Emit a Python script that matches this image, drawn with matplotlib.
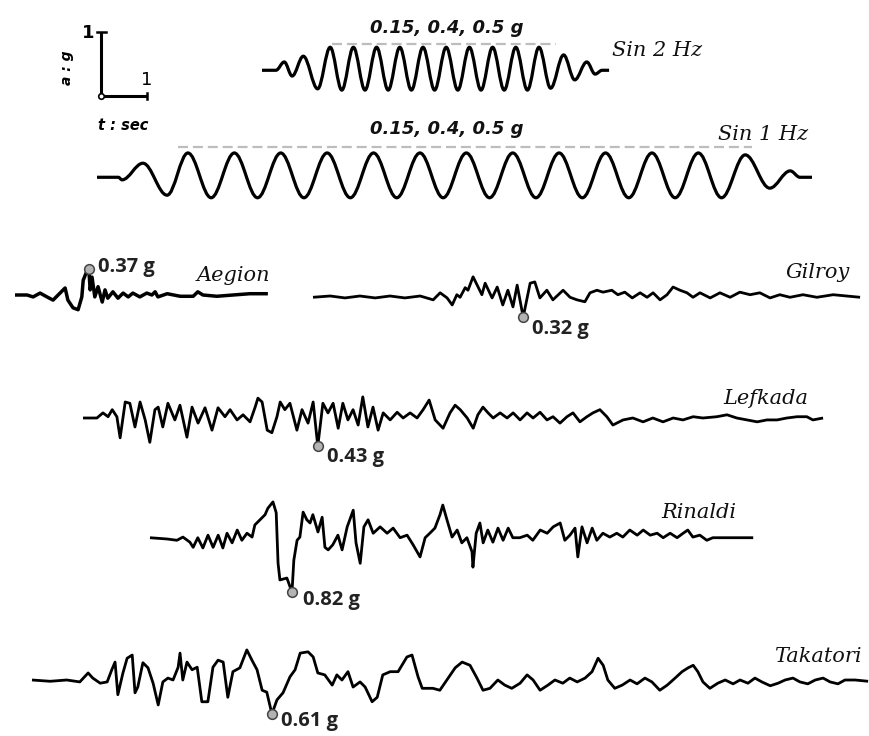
import numpy as np
import matplotlib
matplotlib.use("Agg")
import matplotlib.pyplot as plt
from matplotlib.path import Path
from matplotlib.patches import PathPatch

# ---------------- data: time (s) and acceleration (g) ----------------
SIN2_T = [0.00, 0.30, 0.48, 0.65, 0.89, 1.20,
          1.47, 1.72, 1.97, 2.22, 2.47, 2.72, 2.97, 3.22, 3.47, 3.72,
          3.97, 4.22, 4.47, 4.72, 4.97, 5.22, 5.47, 5.72, 5.97, 6.22,
          6.50, 6.74, 7.00, 7.18, 7.33, 7.48]
SIN2_A = [-0.02, -0.02, 0.11, -0.11, 0.20, -0.31,
          0.34, -0.33, 0.34, -0.33, 0.34, -0.33, 0.34, -0.33, 0.34, -0.33,
          0.34, -0.33, 0.34, -0.33, 0.34, -0.33, 0.34, -0.33, 0.34, -0.30,
          0.22, -0.17, 0.11, -0.08, -0.02, -0.02]
SIN2_DASH_T = [1.51, 6.34]
SIN2_DASH_A = 0.39

SIN1_T = [0.00, 0.46, 0.54, 0.99, 1.51,
          1.96, 2.46, 2.96, 3.46, 3.96, 4.46, 4.96, 5.46, 5.96, 6.46, 6.96, 7.46,
          7.96, 8.46, 8.96, 9.46, 9.96, 10.46, 10.96, 11.46, 11.96, 12.46, 12.96, 13.46,
          13.97, 14.50, 14.94, 15.15, 15.41]
SIN1_A = [-0.02, -0.02, -0.06, 0.20, -0.30,
          0.36, -0.34, 0.36, -0.34, 0.36, -0.34, 0.36, -0.34, 0.36, -0.34, 0.36, -0.34,
          0.36, -0.34, 0.36, -0.34, 0.36, -0.34, 0.36, -0.34, 0.36, -0.34, 0.36, -0.34,
          0.33, -0.19, 0.08, -0.02, -0.02]
SIN1_DASH_T = [1.75, 14.12]
SIN1_DASH_A = 0.45
SIN_LEVELS = "0.15, 0.4, 0.5 g"

AEGION_T = [0, 0.26, 0.39, 0.54, 0.69, 0.82, 0.97, 1.08, 1.14, 1.25,
            1.36, 1.44, 1.47, 1.53, 1.59, 1.62, 1.66, 1.72, 1.79, 1.88,
            1.94, 2.00, 2.11, 2.22, 2.33, 2.44, 2.54, 2.69, 2.84, 2.95,
            3.02, 3.08, 3.28, 3.56, 3.84, 3.94, 4.05, 4.35, 4.70, 5.06, 5.45]
AEGION_A = [0, 0, -0.03, 0.03, -0.03, -0.08, 0.03, 0.11, -0.08, -0.20,
            -0.23, -0.03, 0.23, 0.34, 0.41, 0.08, 0.28, -0.03, 0.13, -0.11,
            0.08, -0.05, 0.05, -0.05, 0.03, -0.03, 0.03, -0.03, 0.03, 0,
            0.05, -0.03, 0.02, -0.02, -0.02, 0.05, 0, -0.02, 0, 0.02, 0.02]
AEGION_PGA = "0.37 g"

GILROY_T = [0, 0.37, 0.69, 1.01, 1.34, 1.66, 1.98, 2.31, 2.59, 2.74,
            2.89, 3.00, 3.10, 3.17, 3.28, 3.34, 3.45, 3.64, 3.71, 3.86,
            3.97, 4.09, 4.20, 4.31, 4.40, 4.53, 4.68, 4.78, 4.89, 5.04,
            5.17, 5.39, 5.54, 5.69, 5.86, 5.97, 6.12, 6.25, 6.44, 6.57,
            6.72, 6.88, 7.05, 7.20, 7.33, 7.48, 7.63, 7.76, 7.91, 8.06,
            8.19, 8.34, 8.56, 8.77, 8.99, 9.20, 9.42, 9.63, 9.85, 10.06,
            10.28, 10.56, 10.86, 11.21, 11.79]
GILROY_A = [-0.02, 0, -0.03, 0, -0.03, 0, -0.03, 0, -0.06, 0.05,
            -0.03, -0.14, 0.02, -0.02, 0.13, 0.09, 0.30, 0.02, 0.20, -0.03,
            0.14, -0.14, 0.09, -0.17, 0.17, -0.33, 0.20, 0.22, -0.03, 0.09,
            -0.06, 0.09, -0.02, -0.06, -0.09, 0.05, 0.09, 0.06, 0.09, 0.02,
            0.06, -0.03, 0.05, -0.02, 0.05, -0.06, 0.02, 0.14, 0.09, 0.05,
            -0.02, 0.05, -0.03, 0.05, -0.02, 0.06, 0.02, 0.05, -0.03, 0.02,
            -0.02, 0.02, -0.02, 0.02, -0.02]
GILROY_PGA = "0.32 g"

LEFKADA_T = [0, 0.30, 0.43, 0.54, 0.63, 0.73, 0.80, 0.91, 1.01, 1.12,
             1.23, 1.34, 1.44, 1.55, 1.62, 1.72, 1.83, 1.98, 2.09, 2.24,
             2.35, 2.48, 2.63, 2.78, 2.91, 3.06, 3.17, 3.32, 3.45, 3.60,
             3.71, 3.77, 3.86, 3.97, 4.07, 4.18, 4.25, 4.35, 4.46, 4.61,
             4.72, 4.85, 4.96, 5.06, 5.17, 5.28, 5.39, 5.50, 5.60, 5.71,
             5.82, 5.93, 6.03, 6.14, 6.25, 6.36, 6.47, 6.62, 6.77, 6.90,
             7.05, 7.20, 7.33, 7.46, 7.59, 7.76, 7.91, 8.02, 8.13, 8.28,
             8.41, 8.51, 8.62, 8.73, 8.84, 8.99, 9.14, 9.27, 9.42, 9.57,
             9.70, 9.85, 10.00, 10.13, 10.28, 10.43, 10.56, 10.71, 10.86, 10.99,
             11.14, 11.29, 11.42, 11.64, 11.85, 12.07, 12.28, 12.50, 12.72, 12.93,
             13.15, 13.36, 13.66, 13.88, 14.09, 14.31, 14.53, 14.74, 14.96, 15.17,
             15.39, 15.60, 15.73, 15.95]
LEFKADA_A = [0, 0, 0.08, 0.02, 0.13, 0.02, -0.31, 0.25, 0.23, -0.14,
             0.25, -0.03, -0.38, 0.13, 0.17, -0.14, 0.23, -0.03, 0.20, -0.30,
             0.17, -0.08, 0.16, -0.19, 0.16, 0.02, 0.13, -0.03, 0.05, -0.06,
             0.17, 0.31, 0.25, -0.19, -0.23, 0.02, 0.25, 0.13, 0.23, -0.19,
             0.13, -0.08, 0.25, -0.44, 0.23, 0.08, 0.23, -0.16, 0.23, -0.03,
             0.13, -0.11, 0.33, -0.14, 0.17, -0.19, 0.08, -0.03, 0.09, 0,
             0.08, 0, 0.13, 0.28, -0.03, -0.16, 0.08, 0.20, 0.13, 0,
             -0.16, 0.05, 0.17, 0.08, 0, 0.08, 0, 0.08, -0.03, 0.08,
             0, 0.09, -0.03, 0.02, -0.08, 0.02, 0.08, -0.06, 0.02, 0.08,
             0.13, 0.02, -0.11, -0.03, 0, -0.06, 0, -0.06, 0, -0.03,
             0.02, 0, 0.02, 0.05, 0, -0.03, -0.06, -0.03, -0.03, 0,
             0.02, 0.02, -0.03, 0]
LEFKADA_PGA = "0.43 g"

RINALDI_T = [0, 0.37, 0.58, 0.71, 0.86, 0.93, 1.03, 1.14, 1.25, 1.36,
             1.47, 1.57, 1.66, 1.77, 1.88, 1.98, 2.09, 2.20, 2.26, 2.37,
             2.48, 2.54, 2.65, 2.72, 2.76, 2.80, 2.95, 3.06, 3.10, 3.17,
             3.23, 3.30, 3.38, 3.45, 3.51, 3.62, 3.71, 3.77, 3.84, 3.94,
             4.05, 4.14, 4.25, 4.38, 4.44, 4.53, 4.61, 4.70, 4.81, 4.96,
             5.11, 5.24, 5.39, 5.54, 5.67, 5.82, 5.93, 6.03, 6.14, 6.25,
             6.31, 6.40, 6.51, 6.62, 6.72, 6.83, 6.94, 6.96, 7.03, 7.11,
             7.18, 7.28, 7.39, 7.50, 7.61, 7.72, 7.82, 7.97, 8.13, 8.25,
             8.41, 8.56, 8.69, 8.84, 8.94, 9.05, 9.16, 9.22, 9.31, 9.42,
             9.53, 9.63, 9.76, 9.91, 10.06, 10.19, 10.34, 10.50, 10.63, 10.78,
             10.93, 11.06, 11.21, 11.36, 11.49, 11.59, 11.70, 11.85, 12.00, 12.13,
             12.44, 13.00]
RINALDI_A = [0.02, 0, -0.02, 0.03, -0.05, -0.13, 0.02, -0.14, 0.06, -0.13,
             0.06, -0.14, 0.09, -0.06, 0.14, -0.02, 0.09, 0.03, 0.22, 0.30,
             0.38, 0.48, 0.58, 0.41, -0.38, -0.64, -0.61, -0.83, -0.33, -0.02,
             0.03, 0.42, 0.30, 0.25, 0.38, 0.11, 0.34, -0.13, -0.17, -0.09,
             0.06, -0.17, 0.19, 0.45, -0.06, -0.38, 0.19, 0.30, 0.09, 0.19,
             0.09, 0.17, 0.02, 0.06, -0.09, -0.28, 0.02, 0.09, 0.17, 0.38,
             0.53, 0.30, 0.03, 0.14, -0.06, 0.02, -0.20, -0.44, 0.09, 0.25,
             -0.06, 0.14, -0.05, 0.17, -0.02, 0.17, 0.02, 0.02, 0.06, -0.02,
             0.14, 0.09, 0.19, 0.25, -0.02, 0.06, 0.17, -0.28, 0.19, -0.06,
             0.17, -0.02, 0.09, 0.03, 0.09, 0.03, 0.14, 0.06, 0.14, 0.06,
             0.09, 0.02, 0.09, 0.02, 0.09, 0.14, 0.03, 0.06, -0.02, 0.02,
             0.02, 0.02]
RINALDI_PGA = "0.82 g"

TAKATORI_T = [0, 0.39, 0.75, 1.03, 1.21, 1.31, 1.47, 1.62, 1.72, 1.79,
              1.85, 1.96, 2.05, 2.16, 2.22, 2.28, 2.39, 2.50, 2.61, 2.72,
              2.82, 2.93, 3.04, 3.15, 3.19, 3.25, 3.34, 3.45, 3.56, 3.66,
              3.79, 3.90, 4.01, 4.12, 4.22, 4.33, 4.48, 4.63, 4.74, 4.85,
              4.96, 5.06, 5.17, 5.28, 5.41, 5.56, 5.67, 5.78, 5.95, 6.06,
              6.16, 6.31, 6.47, 6.57, 6.68, 6.81, 6.92, 7.07, 7.18, 7.33,
              7.44, 7.56, 7.72, 7.89, 8.08, 8.19, 8.32, 8.41, 8.64, 8.79,
              8.94, 9.12, 9.27, 9.44, 9.59, 9.72, 9.87, 10.04, 10.19, 10.34,
              10.52, 10.67, 10.80, 10.95, 11.12, 11.27, 11.44, 11.59, 11.75, 11.92,
              12.07, 12.20, 12.31, 12.41, 12.56, 12.72, 12.89, 13.04, 13.21, 13.36,
              13.53, 13.69, 13.86, 14.01, 14.14, 14.25, 14.35, 14.46, 14.61, 14.78,
              14.94, 15.11, 15.26, 15.43, 15.58, 15.73, 15.91, 16.08, 16.23, 16.40,
              16.55, 16.72, 16.88, 17.05, 17.20, 17.37, 17.52, 17.74, 18.02]
TAKATORI_A = [0, -0.02, 0, -0.03, 0.11, 0.03, -0.05, -0.03, 0.16, 0.28,
              -0.23, 0.11, 0.34, 0.39, -0.20, -0.11, 0.27, 0.19, -0.05, -0.39,
              -0.03, 0.03, 0, 0.20, 0.42, 0, 0.28, 0.16, 0.20, -0.34,
              -0.34, 0.20, 0.31, 0.28, -0.27, 0.13, 0.19, 0.47, 0.31, 0.16,
              -0.16, -0.19, -0.53, -0.31, -0.20, 0.05, 0.16, 0.42, 0.44, 0.36,
              0.11, 0.08, -0.08, 0.08, 0, 0.13, -0.11, -0.03, -0.11, -0.34,
              -0.27, 0.08, 0.13, 0.13, 0.36, 0.39, 0.05, -0.13, -0.13, -0.16,
              0, 0.19, 0.28, 0.23, 0.03, -0.16, -0.13, 0, -0.08, -0.13,
              -0.05, 0.08, 0, -0.16, -0.08, 0, -0.05, 0.03, -0.03, 0.03,
              0.13, 0.34, 0.23, 0, -0.13, -0.08, 0, -0.06, 0.03, -0.03,
              -0.16, -0.08, 0.03, 0.13, 0.19, 0.23, 0.13, -0.03, -0.13, -0.05,
              0, -0.06, 0, -0.05, 0.03, -0.03, -0.09, -0.05, 0, 0.03,
              -0.03, -0.06, 0, 0.03, -0.03, -0.06, 0, 0, -0.02]
TAKATORI_PGA = "0.61 g"

TRACE_NAMES = ["Aegion", "Gilroy", "Lefkada", "Rinaldi", "Takatori"]

# ---------------- layout (pixels on the 870 x 736 canvas) ----------------
W, H = 870, 736
PX_PER_S = 46.4
PX_PER_G = 64.0

fig = plt.figure(figsize=(W / 100, H / 100), dpi=100)
fig.patch.set_facecolor("white")

def px(x, y):
    return x / W, 1 - y / H

def trace_axes(x0, yb, t_end, half=100):
    ax = fig.add_axes([x0 / W, 1 - (yb + half) / H,
                       t_end * PX_PER_S / W, 2 * half / H])
    ax.set_xlim(0, t_end)
    ax.set_ylim(-half / PX_PER_G, half / PX_PER_G)
    ax.axis("off")
    ax.patch.set_visible(False)
    return ax

def smooth_path(t, a, k=0.36):
    verts = [(t[0], a[0])]
    codes = [Path.MOVETO]
    for i in range(1, len(t)):
        dt = t[i] - t[i - 1]
        verts += [(t[i - 1] + k * dt, a[i - 1]), (t[i] - k * dt, a[i]), (t[i], a[i])]
        codes += [Path.CURVE4] * 3
    return Path(verts, codes)

SERIF_IT = dict(family="DejaVu Serif", style="italic", fontsize=15, color="#111111")
PGA_FONT = dict(family="Open Sans", weight="bold", fontsize=14.5, color="#222222")
LEVEL_FONT = dict(family="DejaVu Sans", weight="bold", style="italic", fontsize=13,
                  color="#111111")
GRAY = "#bdbdbd"

# ---- sine inputs ----
for T, A, DT, DA, x0, yb, name, npos, lpos in [
        (SIN2_T, SIN2_A, SIN2_DASH_T, SIN2_DASH_A, 262, 69, "Sin 2 Hz",
         (612, 50, "left"), (447, 28)),
        (SIN1_T, SIN1_A, SIN1_DASH_T, SIN1_DASH_A, 97, 176, "Sin 1 Hz",
         (808, 135, "right"), (447, 129))]:
    ax = trace_axes(x0, yb, T[-1] + 0.05)
    ax.add_patch(PathPatch(smooth_path(T, A), fill=False, lw=2.3, edgecolor="black",
                           capstyle="butt", joinstyle="round", clip_on=False))
    ax.plot(DT, [DA, DA], color=GRAY, lw=1.6, dashes=(4.5, 2.2), clip_on=False)
    fig.text(*px(npos[0], npos[1]), name, ha=npos[2], va="center", **SERIF_IT)
    fig.text(*px(*lpos), SIN_LEVELS, ha="center", va="center", **LEVEL_FONT)

# ---- earthquake records ----
records = {
    "Aegion":   (AEGION_T, AEGION_A, AEGION_PGA),
    "Gilroy":   (GILROY_T, GILROY_A, GILROY_PGA),
    "Lefkada":  (LEFKADA_T, LEFKADA_A, LEFKADA_PGA),
    "Rinaldi":  (RINALDI_T, RINALDI_A, RINALDI_PGA),
    "Takatori": (TAKATORI_T, TAKATORI_A, TAKATORI_PGA),
}
layout = {
    # x0, baseline, line width, name position, PGA label offset (px)
    "Aegion":   (15, 295, 2.5, (197, 275, "left"), (9, 2)),
    "Gilroy":   (313, 296, 2.0, (850, 273, "right"), (9, -12)),
    "Lefkada":  (83, 418, 2.0, (808, 398, "right"), (9, -11)),
    "Rinaldi":  (150, 539, 2.0, (736, 512, "right"), (11, -8)),
    "Takatori": (32, 680, 2.0, (862, 657, "right"), (9, -7)),
}
for name in TRACE_NAMES:
    T, A, pga = records[name]
    x0, yb, lw, npos, off = layout[name]
    T = np.asarray(T)
    A = np.asarray(A)
    ax = trace_axes(x0, yb, T[-1] + 0.05)
    ax.plot(T, A, color="black", lw=lw, solid_joinstyle="round",
            solid_capstyle="butt", clip_on=False)
    i = int(np.argmax(np.abs(A)))
    ax.plot([T[i]], [A[i]], "o", ms=7, mfc="#b3b3b3", mec="#444444", mew=1.1,
            clip_on=False, zorder=5)
    ax.annotate(pga, (T[i], A[i]), xytext=off, textcoords="offset pixels",
                ha="left", va="center", annotation_clip=False, **PGA_FONT)
    fig.text(*px(npos[0], npos[1]), name, ha=npos[2], va="center", **SERIF_IT)

# ---- scale bar: 1 g vertical, 1 s horizontal ----
SCALE_G = [0, 1]
SCALE_S = [0, 1]
sax = trace_axes(101, 96, 1.2, half=80)
sax.plot([0, 0], SCALE_G, color="black", lw=2.2, solid_capstyle="butt", clip_on=False)
sax.plot(SCALE_S, [0, 0], color="black", lw=2.2, solid_capstyle="butt", clip_on=False)
sax.plot([-0.08, 0.1], [1, 1], color="black", lw=1.8, clip_on=False)
sax.plot([1, 1], [-0.04, 0.04], color="black", lw=1.8, clip_on=False)
sax.plot([0], [0], "o", ms=4, mfc="white", mec="black", mew=1.2, clip_on=False)
fig.text(*px(88, 33), "1", ha="center", va="center", family="DejaVu Sans",
         weight="bold", fontsize=13)
fig.text(*px(147, 80), "1", ha="center", va="center", family="DejaVu Sans",
         fontsize=13)
fig.text(*px(67, 68), "a : g", ha="center", va="center", rotation=90,
         family="DejaVu Sans", weight="bold", style="italic", fontsize=10)
fig.text(*px(98, 125), "t : sec", ha="left", va="center",
         family="DejaVu Sans", weight="bold", style="italic", fontsize=10.5)

fig.savefig("out.png", dpi=100, facecolor="white")
